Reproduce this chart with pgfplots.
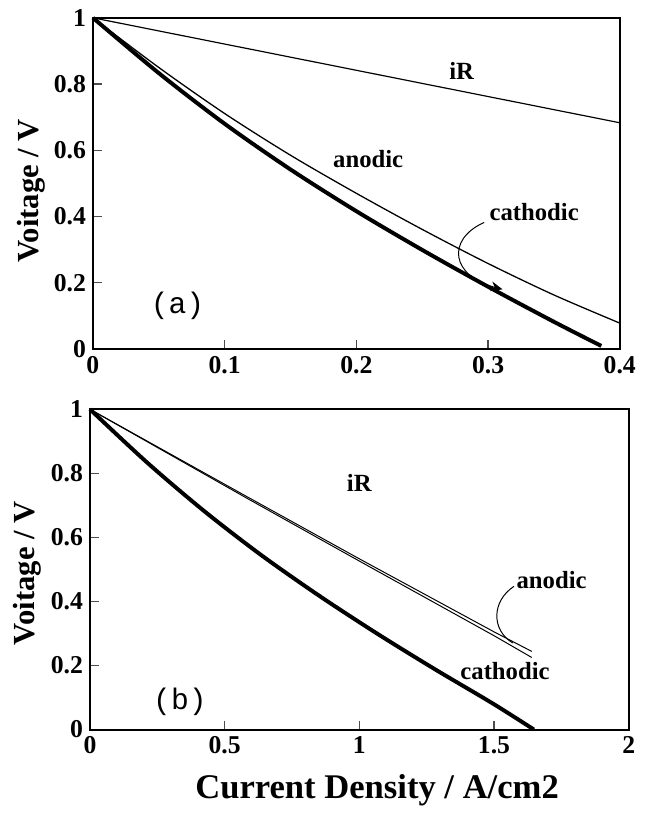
\documentclass[border=0pt]{standalone}
\usepackage{fontspec}
\setmainfont{Liberation Serif}
\setmonofont{Liberation Mono}
\usepackage{pgfplots}
\pgfplotsset{compat=1.18}
\usetikzlibrary{arrows.meta}

\pgfplotsset{
  fcstyle/.style={
    scale only axis,
    ymin=0, ymax=1,
    ytick={0,0.2,0.4,0.6,0.8,1},
    tick align=inside,
    xtick pos=bottom, ytick pos=left,
    major tick length=4.5pt,
    axis line style={line width=1pt},
    every tick/.style={line width=0.6pt, black!70},
    /pgf/number format/assume math mode=true,
    ticklabel style={font=\fontsize{13}{15}\selectfont\bfseries},
    ylabel style={font=\fontsize{15.5}{18}\selectfont\bfseries},
    xlabel style={font=\fontsize{17.5}{20}\selectfont\bfseries},
    ylabel={Voitage / V},
    clip=false,
  },
}
\tikzset{lbl/.style={font=\fontsize{12.5}{14}\selectfont\bfseries}}

\begin{document}
\begin{tikzpicture}
\path (0,0) rectangle (327.5pt,-406.5pt);

% (a)
\begin{axis}[fcstyle,
  at={(47pt,-9pt)}, anchor=north west,
  width=266.5pt, height=167.5pt,
  xmin=0, xmax=0.4,
  xtick={0,0.1,0.2,0.3,0.4},
  ylabel style={at={(axis description cs:-0.117,0.478)}, anchor=center},
]
\addplot[black, line width=0.6pt] coordinates {(0,1) (0.4,0.683)};
\addplot[black, line width=0.65pt, smooth] coordinates {
  (0,1) (0.05,0.85) (0.1,0.711) (0.15,0.585) (0.2,0.470)
  (0.25,0.361) (0.3,0.258) (0.35,0.163) (0.4,0.078)};
\addplot[black, line width=2pt, smooth] coordinates {
  (0,1) (0.05,0.833) (0.1,0.680) (0.15,0.542) (0.2,0.416)
  (0.25,0.299) (0.3,0.188) (0.35,0.082) (0.386,0.009)};
\node[lbl] at (axis cs:0.28,0.839) {iR};
\node[lbl] at (axis cs:0.209,0.573) {anodic};
\node[lbl] at (axis cs:0.335,0.412) {cathodic};
\node[font=\fontsize{15}{17}\selectfont\ttfamily] at (axis cs:0.0642,0.131) {(a)};
\draw[line width=0.5pt, -{Stealth[length=6pt,width=5pt]}]
  (axis cs:0.297,0.382) .. controls (axis cs:0.268,0.33) and (axis cs:0.272,0.22) .. (axis cs:0.311,0.18);
\end{axis}

% (b)
\begin{axis}[fcstyle,
  at={(45.5pt,-207pt)}, anchor=north west,
  width=272.5pt, height=162pt,
  xmin=0, xmax=2,
  xtick={0,0.5,1,1.5,2},
  xlabel={Current Density / A/cm2},
  xlabel style={at={(axis description cs:0.533,-0.191)}, anchor=center},
  ylabel style={at={(axis description cs:-0.1156,0.488)}, anchor=center},
]
\addplot[black, line width=0.5pt] coordinates {
  (0,1) (0.583,0.727) (1,0.533) (1.5,0.305) (1.64,0.244)};
\addplot[black, line width=0.5pt] coordinates {
  (0,1) (0.583,0.722) (1,0.526) (1.5,0.293) (1.64,0.225)};
\addplot[black, line width=2pt, smooth] coordinates {
  (0,1) (0.213,0.833) (0.427,0.680) (0.640,0.542) (0.854,0.416)
  (1.067,0.299) (1.281,0.188) (1.494,0.082) (1.648,0)};
\node[lbl] at (axis cs:1.0,0.77) {iR};
\node[lbl] at (axis cs:1.714,0.466) {anodic};
\node[lbl] at (axis cs:1.541,0.182) {cathodic};
\node[font=\fontsize{15}{17}\selectfont\ttfamily] at (axis cs:0.334,0.086) {(b)};
\draw[line width=0.5pt]
  (axis cs:1.574,0.447) .. controls (axis cs:1.49,0.40) and (axis cs:1.49,0.31) .. (axis cs:1.57,0.27);
\end{axis}
\end{tikzpicture}
\end{document}
